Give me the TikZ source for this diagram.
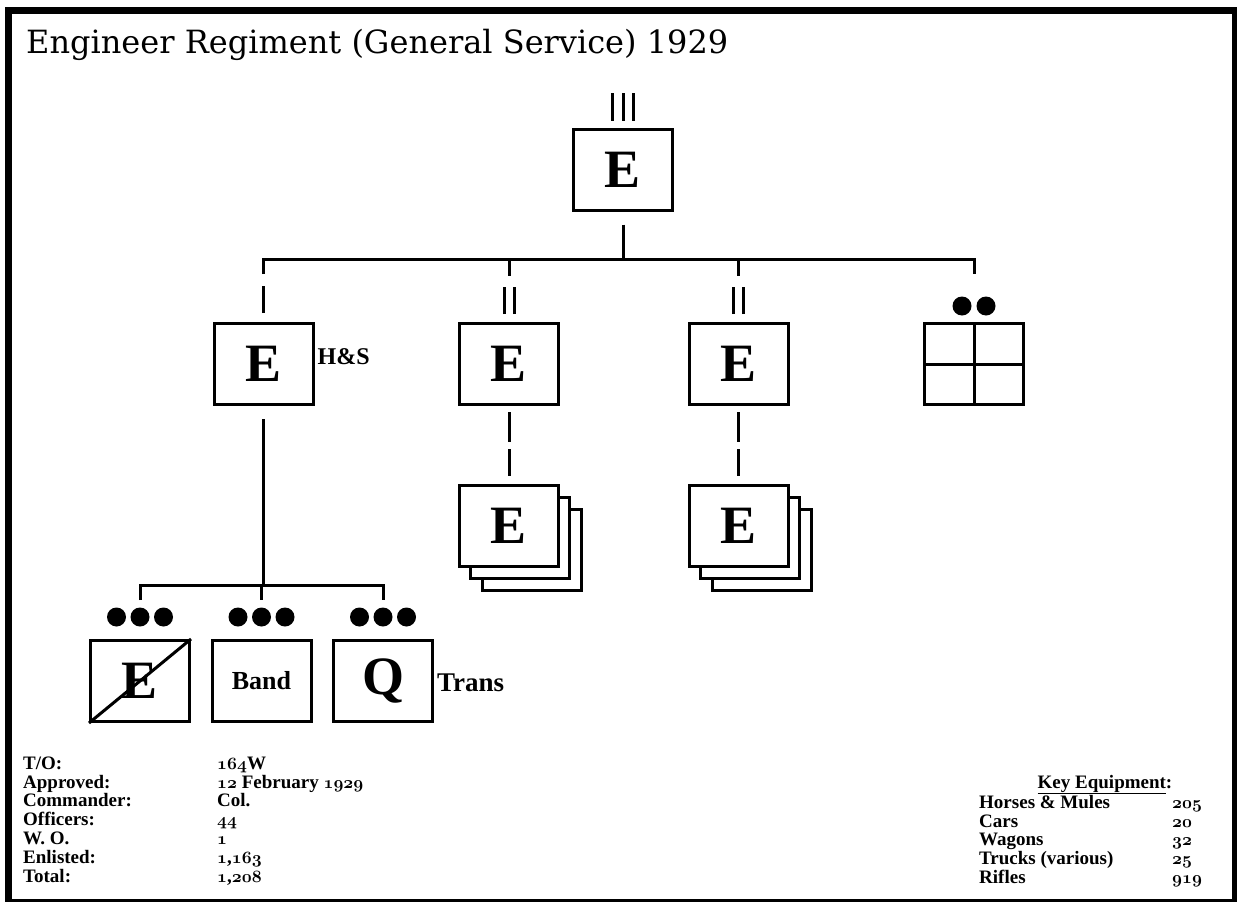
\documentclass[tikz,border=0pt]{standalone}
\usepackage{fontspec}
\newfontfamily\symfont{Liberation Serif}
\newfontfamily\titlefont{DejaVu Serif}
\newcommand\osn[1]{{\usefont{OML}{cmm}{b}{it}#1}}
\tikzset{
  unit/.style={draw, line width=3pt, minimum width=99pt, minimum height=81pt, inner sep=0pt, fill=white,
    font=\symfont\bfseries\fontsize{54}{54}\selectfont},
  conn/.style={line width=3pt, line join=miter},
  dotmark/.style={circle, fill=black, minimum size=19pt, inner sep=0pt},
  lbl/.style={font=\symfont\bfseries\fontsize{24}{24}\selectfont, inner sep=0pt},
  tbl/.style={font=\symfont\bfseries\fontsize{19}{18.7}\selectfont, inner sep=0pt, anchor=north west},
}
\begin{document}
\begin{tikzpicture}[x=1pt,y=-1pt]
\useasboundingbox (0,0) rectangle (1237,902);
\fill[white] (0,0) rectangle (1237,902);
\draw[line width=7pt] (8.5,10.5) rectangle (1235.5,902.5);

\node[anchor=base west, inner sep=0pt, font=\titlefont\fontsize{32}{32}\selectfont] (title) at (26,53)
  {Engineer Regiment (General Service) 1929};

% regiment
\node[unit] (top) at (623,169.5) {E};
\foreach \dx [count=\i] in {-11,0,10}
  \draw[conn] ([xshift=\dx pt,yshift=7pt]top.north) -- ++(0,-28);

% second level
\node[unit] (hs) at (263.5,364) {E};
\node[unit] (bn1) at (509,364) {E};
\node[unit] (bn2) at (738.5,364) {E};
\node[unit] (sq) at (974,364) {};
\draw[line width=3pt] (sq.north) -- (sq.south);
\draw[line width=3pt] (sq.west) -- (sq.east);
\node[lbl, anchor=west] (hslbl) at ([xshift=3pt,yshift=7pt]hs.east) {H\&S};

% bus from regiment
\coordinate (busL) at (263,259);
\draw[conn] ([yshift=-13pt]top.south) -- (top.south |- busL);
\draw[conn] (hs.north |- busL) ++(0,15) -- (hs.north |- busL) -- (sq.north |- busL) -- ++(0,15);
\draw[conn] (bn1.north |- busL) -- ++(0,17);
\draw[conn] (bn2.north |- busL) -- ++(0,17);

% echelon marks
\draw[conn] ([yshift=9pt]hs.north) -- ++(0,-27);
\foreach \n in {bn1,bn2}
  \foreach \dx in {-5,5}
    \draw[conn] ([xshift=\dx pt,yshift=8pt]\n.north) -- ++(0,-27);
\node[dotmark] (sqd1) at ([xshift=-12pt,yshift=16pt]sq.north) {};
\node[dotmark] (sqd2) at ([xshift=12pt,yshift=16pt]sq.north) {};

% stacked companies
\node[unit] (co1c) at (531.5,549.5) {};
\node[unit] (co1b) at (519.5,537.5) {};
\node[unit] (co1) at (509,525.5) {E};
\node[unit] (co2c) at (761.5,549.5) {};
\node[unit] (co2b) at (749.5,537.5) {};
\node[unit] (co2) at (738.5,525.5) {E};
\draw[conn, dash pattern=on 30pt off 7pt] ([yshift=-6pt]bn1.south) -- ([yshift=8pt]co1.north);
\draw[conn, dash pattern=on 30pt off 7pt] ([yshift=-6pt]bn2.south) -- ([yshift=8pt]co2.north);

% HQ sub-units
\node[unit] (u1) at (140,681) {E};
\draw[line width=3pt] (u1.south west) -- (u1.north east);
\node[unit, font=\symfont\bfseries\fontsize{26}{26}\selectfont] (u2) at (261.5,681) {Band};
\node[unit] (u3) at (383,681) {Q};
\node[lbl, font=\symfont\bfseries\fontsize{27}{27}\selectfont, anchor=west] (trans) at ([xshift=3pt,yshift=-2pt]u3.east) {Trans};

\coordinate (bus2L) at (141,585);
\draw[conn] ([yshift=-13pt]hs.south) -- (hs.south |- bus2L);
\draw[conn] (u1.north |- bus2L) ++(0,15) -- (u1.north |- bus2L) -- (u3.north |- bus2L) -- ++(0,15);
\draw[conn] (u2.north |- bus2L) -- ++(0,15);
\foreach \n in {u1,u2,u3}
  \foreach \dx [count=\i] in {-23.5,0,23.5}
    \node[dotmark] (\n d\i) at ([xshift=\dx pt,yshift=22pt]\n.north) {};

% tables
\node[tbl] (specs) at (23,756) {\begin{tabular}{@{}p{194pt}@{}l@{}}
T/O: & \osn{164}W\\
Approved: & \osn{12} February \osn{1929}\\
Commander: & Col.\\
Officers: & \osn{44}\\
W. O. & \osn{1}\\
Enlisted: & \osn{1},\osn{163}\\
Total: & \osn{1},\osn{208}
\end{tabular}};

\node[tbl, anchor=base] (keyeq) at (1105,788) {\underline{Key Equipment}:};
\node[tbl] (equip) at (979,795) {\begin{tabular}{@{}p{193pt}@{}l@{}}
Horses \& Mules & \osn{205}\\
Cars & \osn{20}\\
Wagons & \osn{32}\\
Trucks (various) & \osn{25}\\
Rifles & \osn{919}
\end{tabular}};
\end{tikzpicture}
\end{document}
